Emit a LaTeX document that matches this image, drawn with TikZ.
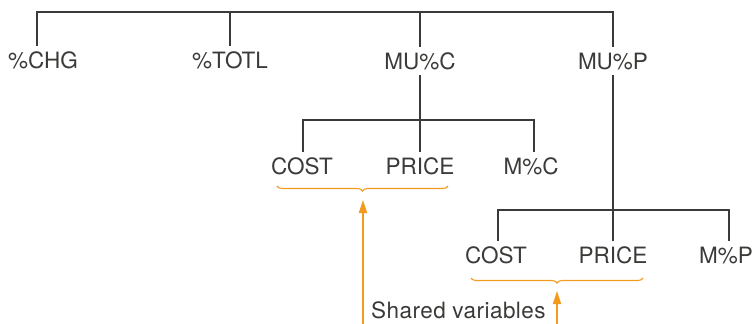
\documentclass[tikz,border=0pt]{standalone}
\usepackage{fontspec}
\setmainfont{TeX Gyre Heros}
\usetikzlibrary{calc,arrows.meta,decorations.pathreplacing}
\definecolor{treeInk}{RGB}{58,58,56}
\definecolor{noteOrange}{RGB}{242,155,30}

\begin{document}
\begin{tikzpicture}[x=1pt,y=-1pt,
  lab/.style={font=\fontsize{22.5}{22.5}\selectfont,text=treeInk,inner sep=5pt,anchor=base},
  tree/.style={draw=treeInk,line width=1.4pt},
  sharebrace/.style={draw=noteOrange,line width=1.1pt,decorate,decoration={brace,mirror,amplitude=5pt,aspect=0.5}},
  sharearrow/.style={draw=noteOrange,line width=1.8pt,-{Triangle[length=13pt,width=8pt]}}]
  \useasboundingbox (0,0) rectangle (753,324);
  \def\barA{12}\def\barB{120}\def\barC{210}
  % top row
  \node[lab] (chg)  at (43,68)  {\%CHG};
  \node[lab] (totl) at (230,68) {\%TOTL};
  \node[lab] (muc)  at (420,69) {MU\%C};
  \node[lab] (mup)  at (613,69) {MU\%P};
  % second row
  \node[lab] (cost1)  at (302,174) {COST};
  \node[lab] (price1) at (420,174) {PRICE};
  \node[lab] (mc)     at (531,174) {M\%C};
  % third row
  \node[lab] (cost2)  at (496,263) {COST};
  \node[lab] (price2) at (613,263) {PRICE};
  \node[lab] (mp)     at (726,263) {M\%P};
  \node[lab,anchor=base west,inner sep=0pt,font=\fontsize{22.5}{22.5}\selectfont\addfontfeature{LetterSpace=2}] (shared) at (371,318) {Shared variables};

  \draw[tree] ([xshift=-6pt]chg.north) |- (mup.north |- 0,\barA) -- (mup.north);
  \foreach \n in {totl,muc}
    \draw[tree] (\n.north) -- (\n.north |- 0,\barA);
  \draw[tree] ([xshift=1pt]cost1.north) |- ([xshift=3pt]mc.north |- 0,\barB) -- ([xshift=3pt]mc.north);
  \draw[tree] (price1.north) -- (muc.south);
  \draw[tree] ([xshift=2pt]cost2.north) |- ([xshift=3pt]mp.north |- 0,\barC) -- ([xshift=3pt]mp.north);
  \draw[tree] (price2.north) -- (mup.south);

  % shared variables
  \coordinate (braceA1) at (277,186);\coordinate (braceA2) at (448,186);
  \coordinate (braceB1) at (471,278);\coordinate (braceB2) at (643,278);
  \draw[sharebrace] (braceA1) -- (braceA2);
  \draw[sharebrace] (braceB1) -- (braceB2);
  \coordinate (tipA) at (363,200);\coordinate (footA) at (363,324);
  \coordinate (tipB) at (557,291);\coordinate (footB) at (557,324);
  \draw[sharearrow] (footA) -- (tipA);
  \draw[sharearrow] (footB) -- (tipB);
\end{tikzpicture}
\end{document}
